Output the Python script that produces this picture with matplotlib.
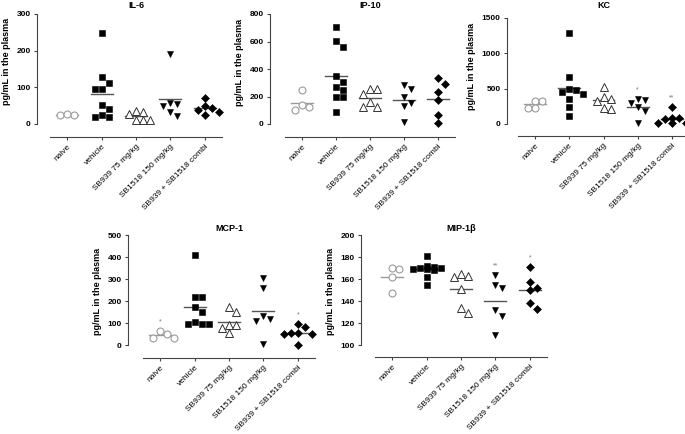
import numpy as np
import matplotlib
matplotlib.use("Agg")
import matplotlib.pyplot as plt

plt.rcParams["font.family"] = ["Liberation Sans", "DejaVu Sans"]

DPI = 100
FIG_W, FIG_H = 685, 434
PT = 72 / DPI  # points per pixel

GROUPS = ["naive", "vehicle", "SB939 75 mg/kg", "SB1518 150 mg/kg",
          "SB939 + SB1518 combi"]

# values (pg/mL), one list per group
IL6 = [
    [24, 26, 25],
    [247, 128, 111, 95, 95, 52, 41, 24, 19, 19],
    [36, 33, 28, 12, 11, 12],
    [190, 57, 48, 55, 33, 22],
    [70, 50, 43, 39, 32, 25],
]
IP10 = [
    [249, 140, 123, 104],
    [703, 607, 563, 346, 302, 268, 249, 196, 196, 85],
    [254, 220, 254, 157, 123, 123],
    [285, 254, 196, 152, 128, 12],
    [333, 292, 230, 176, 68, 7],
]
KC = [
    [330, 320, 230, 225],
    [1290, 665, 500, 480, 450, 420, 360, 245, 120],
    [527, 380, 347, 320, 215, 230],
    [350, 300, 340, 240, 185, 15],
    [237, 90, 80, 75, 20, 15, 12],
]
MCP1 = [
    [62, 50, 32, 32],
    [409, 220, 220, 175, 150, 103, 97, 97, 95],
    [150, 175, 92, 92, 77, 54],
    [304, 258, 119, 110, 130, 5],
    [97, 80, 55, 52, 50, 55, 2],
]
MIP1B = [
    [169, 170, 162, 147],
    [181, 172, 171, 170, 170, 169, 169, 168, 162, 155],
    [165, 162, 163, 151, 129, 134],
    [164, 155, 152, 132, 126, 109],
    [171, 157, 152, 150, 138, 133],
]

IL6_STARS = ["", "", "", "", ""]
IP10_STARS = ["", "", "", "", ""]
KC_STARS = ["", "", "", "*", "**"]
MCP1_STARS = ["*", "", "", "", "*"]
MIP1B_STARS = ["", "", "", "**", "*"]

MARKERS = [
    dict(marker="o", mfc="white", mec="#9a9a9a", ms=5.0, mew=0.8),
    dict(marker="s", mfc="black", mec="black", ms=4.2, mew=0.4),
    dict(marker="^", mfc="white", mec="#333333", ms=5.2, mew=0.7),
    dict(marker="v", mfc="black", mec="black", ms=4.8, mew=0.4),
    dict(marker="D", mfc="black", mec="black", ms=4.0, mew=0.4),
]
LINE_COLORS = ["#9a9a9a", "#555555", "#555555", "#555555", "#555555"]
AXIS_COLOR = "#444444"

# pixel layout: left, right, top, zero, x-axis line, y-spine x,
# ylabel centre y, title baseline y
PANELS = [
    ("IL-6", IL6, IL6_STARS, (0, 300, 100),
     (50, 222, 14, 124, 137, 37, 61, 8)),
    ("IP-10", IP10, IP10_STARS, (0, 800, 200),
     (285, 455, 14, 124, 137, 270, 62, 8)),
    ("KC", KC, KC_STARS, (0, 1500, 500),
     (518, 689, 18, 124, 136, 507, 66, 8)),
    ("MCP-1", MCP1, MCP1_STARS, (0, 500, 100),
     (143, 315, 235, 345, 358, 128, 291, 231)),
    ("MIP-1\u03b2", MIP1B, MIP1B_STARS, (100, 200, 20),
     (375, 547, 235, 345, 357, 361, 291, 231)),
]


def swarm(values, px_per_unit, size=7.0, kmax=2):
    """Spread points sideways (in pixels) so that markers do not overlap."""
    placed = []
    offsets = np.zeros(len(values))
    for i in np.argsort(values)[::-1]:
        y = values[i] * px_per_unit
        best, best_gap = 0.0, -1.0
        for k in [0] + [s * n for n in range(1, kmax + 1) for s in (1, -1)]:
            x = k * size
            gap = min([np.hypot(x - px, y - py) for px, py in placed] or [99])
            if gap >= size:
                best = x
                break
            if gap > best_gap:
                best, best_gap = x, gap
        placed.append((best, y))
        offsets[i] = best
    return offsets


def draw_panel(fig, title, data, stars, yrange, box):
    left, right, top, zero, base, spine_x, label_y, title_y = box
    ymin, ymax, step = yrange
    ax = fig.add_axes([left / FIG_W, 1 - base / FIG_H,
                       (right - left) / FIG_W, (base - top) / FIG_H])

    px_per_unit = (zero - top) / (ymax - ymin)
    px_per_cat = (right - left) / 5
    ax.set_xlim(-0.5, 4.5)
    ax.set_ylim(ymin - (base - zero) / px_per_unit, ymax)

    for i, values in enumerate(data):
        values = np.asarray(values, dtype=float)
        xs = i + swarm(values - ymin, px_per_unit) / px_per_cat
        ax.plot(xs, values, linestyle="none", clip_on=False, zorder=3,
                **MARKERS[i])
        mean = values.mean()
        ax.plot([i - 0.32, i + 0.32], [mean, mean], color=LINE_COLORS[i],
                lw=1.0, zorder=2)
        if stars[i]:
            ax.annotate(stars[i], xy=(i, values.max()), xytext=(0, 6.5),
                        textcoords="offset points", ha="center", va="center",
                        fontsize=5, color="#777777")

    for side in ("top", "right"):
        ax.spines[side].set_visible(False)
    ax.spines["left"].set_position(("outward", (left - spine_x) * PT))
    ax.spines["left"].set_bounds(ymin, ymax)
    for side in ("left", "bottom"):
        ax.spines[side].set_color(AXIS_COLOR)
        ax.spines[side].set_linewidth(0.8)

    ax.set_yticks(np.arange(ymin, ymax + step / 2, step))
    ax.set_xticks(range(5))
    ax.set_xticklabels(GROUPS, rotation=45, ha="right",
                       rotation_mode="anchor", fontsize=6)
    ax.tick_params(axis="both", direction="out", length=2.5, width=0.8,
                   color=AXIS_COLOR, pad=2)
    for lab in ax.get_yticklabels():
        lab.set_fontsize(6)
        lab.set_fontweight("bold")

    ax.set_ylabel("pg/mL in the plasma", fontsize=6.5, fontweight="bold",
                  labelpad=4)
    ax.yaxis.label.set_y((base - label_y) / (base - top))
    ax.set_title(title, fontsize=6.5, fontweight="bold",
                 pad=(top - title_y) * PT)
    return ax


fig = plt.figure(figsize=(FIG_W / DPI, FIG_H / DPI), dpi=DPI)
for title, data, stars, yrange, box in PANELS:
    draw_panel(fig, title, data, stars, yrange, box)

fig.savefig("out.png", dpi=DPI, facecolor="white")
